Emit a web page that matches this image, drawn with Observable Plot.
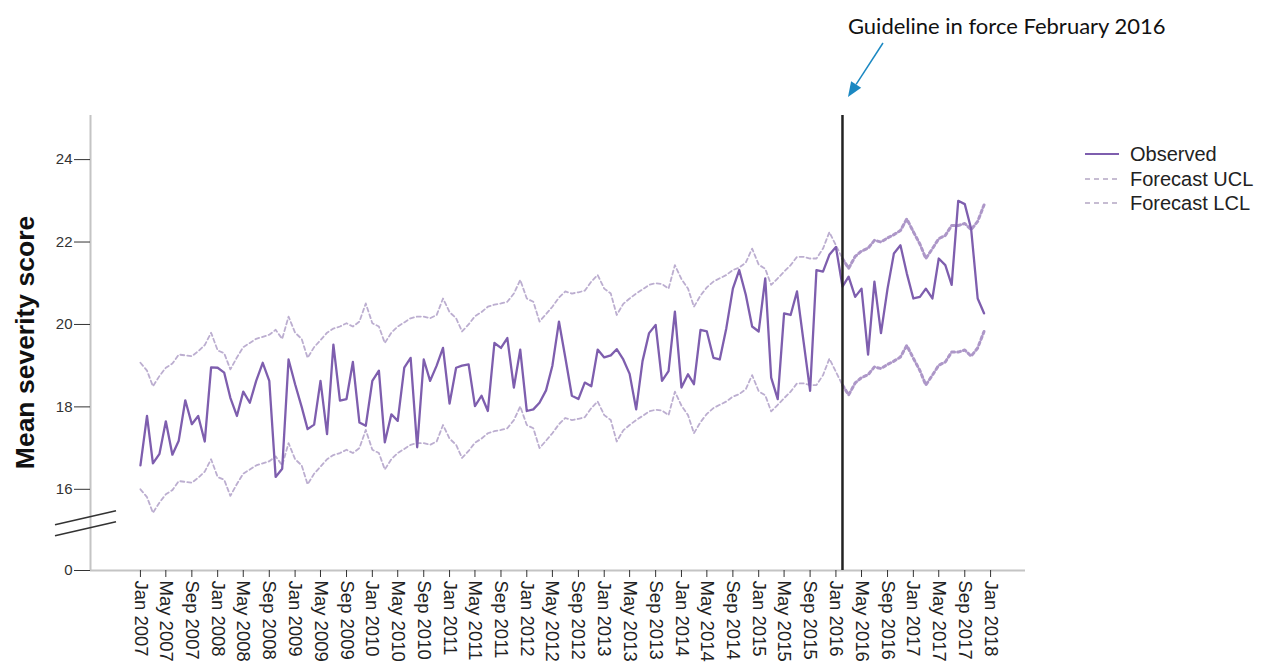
<!DOCTYPE html>
<html>
<head>
<meta charset="utf-8">
<script src="https://cdn.jsdelivr.net/npm/d3@7"></script>
<script src="https://cdn.jsdelivr.net/npm/@observablehq/plot@0.6"></script>
<style>
  html, body { margin: 0; padding: 0; background: #fff; }
  #wrap { position: relative; width: 1268px; height: 668px; overflow: hidden; font-family: "Liberation Sans", Arial, sans-serif; }
  #legend { position: absolute; left: 1085px; top: 142px; font-size: 20px; color: #222; line-height: 24.5px; }
  #legend .item { display: flex; align-items: center; height: 24.5px; }
  #legend svg { width: 34px; height: 10px; margin-right: 11px; }
</style>
</head>
<body>
<div id="wrap"></div>
<script>
// ---------------- DATA ----------------
const firstMonth = [2007, 0]; // Jan 2007, monthly series
const observed = [
  16.58, 17.78, 16.63, 16.86, 17.65, 16.84, 17.18, 18.16, 17.58, 17.78, 17.16, 18.96,
  18.95, 18.83, 18.22, 17.78, 18.37, 18.10, 18.63, 19.07, 18.63, 16.30, 16.50, 19.15,
  18.55, 18.00, 17.46, 17.57, 18.63, 17.34, 19.51, 18.15, 18.19, 19.09, 17.62, 17.54,
  18.63, 18.88, 17.14, 17.82, 17.66, 18.95, 19.19, 17.02, 19.15, 18.63, 19.00, 19.43,
  18.08, 18.95, 19.00, 19.03, 18.02, 18.27, 17.90, 19.55, 19.43, 19.67, 18.47, 19.39,
  17.90, 17.94, 18.10, 18.40, 19.00, 20.07, 19.20, 18.27, 18.19, 18.59, 18.50, 19.39,
  19.20, 19.25, 19.40, 19.15, 18.80, 17.94, 19.11, 19.79, 19.99, 18.63, 18.87, 20.31,
  18.47, 18.79, 18.55, 19.87, 19.83, 19.19, 19.15, 19.91, 20.87, 21.32, 20.72, 19.95,
  19.83, 21.12, 18.71, 18.19, 20.27, 20.23, 20.80, 19.59, 18.39, 21.32, 21.28, 21.69,
  21.88, 20.92, 21.16, 20.67, 20.87, 19.27, 21.04, 19.79, 20.87, 21.72, 21.92, 21.24,
  20.63, 20.67, 20.87, 20.63, 21.60, 21.44, 20.96, 23.00, 22.92, 22.32, 20.63, 20.27
];
const forecastUCL = [
  19.07, 18.88, 18.50, 18.75, 18.95, 19.05, 19.27, 19.25, 19.23, 19.35, 19.50, 19.80,
  19.37, 19.30, 18.91, 19.20, 19.45, 19.55, 19.65, 19.70, 19.75, 19.87, 19.65, 20.19,
  19.80, 19.65, 19.19, 19.45, 19.62, 19.80, 19.90, 19.95, 20.03, 19.95, 20.07, 20.51,
  20.03, 19.95, 19.55, 19.80, 19.95, 20.05, 20.15, 20.19, 20.19, 20.15, 20.23, 20.63,
  20.30, 20.15, 19.83, 20.00, 20.20, 20.30, 20.43, 20.48, 20.51, 20.55, 20.75, 21.08,
  20.63, 20.55, 20.07, 20.25, 20.43, 20.65, 20.80, 20.75, 20.78, 20.82, 21.04, 21.20,
  20.87, 20.75, 20.23, 20.50, 20.63, 20.75, 20.85, 20.96, 21.00, 20.98, 20.87, 21.44,
  21.10, 20.87, 20.43, 20.70, 20.90, 21.04, 21.12, 21.20, 21.32, 21.38, 21.50, 21.84,
  21.45, 21.35, 20.96, 21.12, 21.28, 21.44, 21.64, 21.64, 21.60, 21.60, 21.84, 22.24,
  21.92, 21.60, 21.36, 21.65, 21.78, 21.85, 22.04, 22.00, 22.10, 22.18, 22.28, 22.56,
  22.25, 21.95, 21.60, 21.84, 22.08, 22.16, 22.40, 22.40, 22.45, 22.30, 22.50, 22.90
];
const forecastLCL = [
  16.00, 15.81, 15.43, 15.68, 15.88, 15.98, 16.20, 16.18, 16.16, 16.28, 16.43, 16.73,
  16.30, 16.23, 15.84, 16.13, 16.38, 16.48, 16.58, 16.63, 16.68, 16.80, 16.58, 17.12,
  16.73, 16.58, 16.12, 16.38, 16.55, 16.73, 16.83, 16.88, 16.96, 16.88, 17.00, 17.44,
  16.96, 16.88, 16.48, 16.73, 16.88, 16.98, 17.08, 17.12, 17.12, 17.08, 17.16, 17.56,
  17.23, 17.08, 16.76, 16.93, 17.13, 17.23, 17.36, 17.41, 17.44, 17.48, 17.68, 18.01,
  17.56, 17.48, 17.00, 17.18, 17.36, 17.58, 17.73, 17.68, 17.71, 17.75, 17.97, 18.13,
  17.80, 17.68, 17.16, 17.43, 17.56, 17.68, 17.78, 17.89, 17.93, 17.91, 17.80, 18.37,
  18.03, 17.80, 17.36, 17.63, 17.83, 17.97, 18.05, 18.13, 18.25, 18.31, 18.43, 18.77,
  18.38, 18.28, 17.89, 18.05, 18.21, 18.37, 18.57, 18.57, 18.53, 18.53, 18.77, 19.17,
  18.85, 18.53, 18.29, 18.58, 18.71, 18.78, 18.97, 18.93, 19.03, 19.11, 19.21, 19.49,
  19.18, 18.88, 18.53, 18.77, 19.01, 19.09, 19.33, 19.33, 19.38, 19.23, 19.43, 19.83
];
const yTickValues = [14.03, 16, 18, 20, 22, 24];
const yTickLabels = ["0", "16", "18", "20", "22", "24"];
const xTickStart = [2007, 0];
const xTickEnd = [2018, 0];
const xTickStepMonths = 4;
const guideline = [2016, 1];       // February 2016
const annotationText = "Guideline in force February 2016";
const seriesNames = ["Observed", "Forecast UCL", "Forecast LCL"];
const yLabel = "Mean severity score";

// ---------------- BUILD ----------------
const monthDate = (y, m) => new Date(Date.UTC(y, m, 1));
const rows = observed.map((v, i) => ({
  date: monthDate(firstMonth[0], firstMonth[1] + i),
  observed: v, ucl: forecastUCL[i], lcl: forecastLCL[i]
}));
const guideDate = monthDate(guideline[0], guideline[1]);
const pre = rows.filter(d => d.date <= guideDate);
const post = rows.filter(d => d.date >= guideDate);
const xTicks = d3.utcMonth.every(xTickStepMonths).range(monthDate(...xTickStart), d3.utcDay.offset(monthDate(...xTickEnd), 1));
const xDomain = [new Date(Date.UTC(2006, 4, 10)), new Date(Date.UTC(2018, 5, 15))];
const yDomain = [14.03, 25.07];

const obsColor = "#7e5eae";
const bandColor = "#bcaed0";
const bandPostColor = "#ad97c8";
const axisGray = "#c4c4c4";

const plot = Plot.plot({
  width: 1268,
  height: 668,
  marginTop: 115,
  marginBottom: 98,
  marginLeft: 90,
  marginRight: 243,
  style: { fontFamily: "'Liberation Sans', Arial, sans-serif", background: "#fff", overflow: "visible" },
  x: { type: "utc", domain: xDomain },
  y: { domain: yDomain },
  marks: [
    Plot.ruleY([yDomain[0]], { stroke: axisGray, strokeWidth: 2 }),
    Plot.ruleX([xDomain[0]], { stroke: axisGray, strokeWidth: 2 }),
    Plot.axisX({
      ticks: xTicks, tickFormat: d3.utcFormat("%b %Y"), tickRotate: 90,
      tickSize: 7, tickPadding: 3, fontSize: 18.5, stroke: "#333", fill: "#222", label: null
    }),
    Plot.axisY({
      ticks: yTickValues, tickFormat: (d, i) => yTickLabels[yTickValues.indexOf(d)],
      tickSize: 16, tickPadding: 2, fontSize: 15, stroke: "#333", fill: "#333",
      label: yLabel, labelAnchor: "center", labelOffset: 62, labelArrow: "none"
    }),
    Plot.line(pre, { x: "date", y: "ucl", stroke: bandColor, strokeWidth: 1.8, strokeDasharray: "4,3" }),
    Plot.line(pre, { x: "date", y: "lcl", stroke: bandColor, strokeWidth: 1.8, strokeDasharray: "4,3" }),
    Plot.line(post, { x: "date", y: "ucl", stroke: bandPostColor, strokeWidth: 3, strokeDasharray: "3,3" }),
    Plot.line(post, { x: "date", y: "lcl", stroke: bandPostColor, strokeWidth: 3, strokeDasharray: "3,3" }),
    Plot.line(rows, { x: "date", y: "observed", stroke: obsColor, strokeWidth: 2.3 }),
    Plot.ruleX([guideDate], { stroke: "#222", strokeWidth: 2.5 })
  ]
});

const svg = d3.select(plot);
const xs = plot.scale("x"), ys = plot.scale("y");

// y label: bold, larger, centred on the frame
const frameMid = (ys.apply(yDomain[0]) + ys.apply(yDomain[1])) / 2;
svg.selectAll('g[aria-label="y-axis label"] text').remove();
svg.append("text")
  .attr("transform", `translate(25,${frameMid}) rotate(-90)`)
  .attr("text-anchor", "middle").attr("dominant-baseline", "central")
  .style("font-size", "26.5px").style("font-weight", "bold").attr("fill", "#111")
  .text(yLabel);

// decorations: axis break, annotation & arrow
const deco = svg.append("g");
const ax = xs.apply(xDomain[0]);
const by = ys.apply(15.3);
[0, 11].forEach(off => {
  deco.append("line")
    .attr("x1", ax - 35).attr("y1", by + 7 + off)
    .attr("x2", ax + 26).attr("y2", by - 7 + off)
    .attr("stroke", "#333").attr("stroke-width", 1.6);
});
const gx = xs.apply(guideDate);
deco.append("text")
  .attr("x", gx + 6).attr("y", 34).attr("text-anchor", "start")
  .style("font-family", "Lato, 'Open Sans', sans-serif").style("font-size", "22px").attr("fill", "#111")
  .text(annotationText);
const arrowColor = "#1b88c2";
const tip = [gx + 6, 97], tail = [gx + 41, 43];
const ang = Math.atan2(tip[1] - tail[1], tip[0] - tail[0]);
const hl = 15, hw = 6;
const base = [tip[0] - hl * Math.cos(ang), tip[1] - hl * Math.sin(ang)];
deco.append("line")
  .attr("x1", tail[0]).attr("y1", tail[1]).attr("x2", base[0]).attr("y2", base[1])
  .attr("stroke", arrowColor).attr("stroke-width", 1.5);
deco.append("path")
  .attr("d", `M${tip[0]},${tip[1]}L${base[0] + hw * Math.sin(ang)},${base[1] - hw * Math.cos(ang)}L${base[0] - hw * Math.sin(ang)},${base[1] + hw * Math.cos(ang)}Z`)
  .attr("fill", arrowColor);

const wrap = document.getElementById("wrap");
wrap.appendChild(plot);

// legend
const legend = document.createElement("div");
legend.id = "legend";
const styles = [
  { stroke: obsColor, dash: null },
  { stroke: "#c6bcd2", dash: "5,4" },
  { stroke: "#c6bcd2", dash: "5,4" }
];
seriesNames.forEach((name, i) => {
  const item = document.createElement("div");
  item.className = "item";
  item.innerHTML = `<svg viewBox="0 0 34 10"><line x1="0" y1="5" x2="34" y2="5" stroke="${styles[i].stroke}" stroke-width="2.2" ${styles[i].dash ? `stroke-dasharray="${styles[i].dash}"` : ""}/></svg><span>${name}</span>`;
  legend.appendChild(item);
});
wrap.appendChild(legend);
</script>
</body>
</html>
